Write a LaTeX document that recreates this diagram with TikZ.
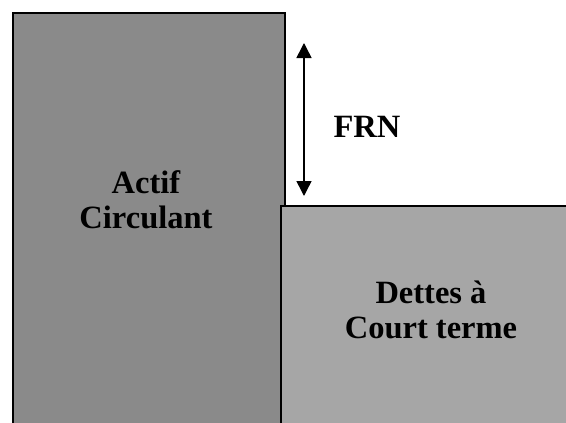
\documentclass[tikz,border=0pt]{standalone}
\usepackage{fontspec}
\setmainfont{Liberation Serif}
\usetikzlibrary{arrows.meta}
\definecolor{actifgray}{RGB}{138,138,138}
\definecolor{dettesgray}{RGB}{166,166,166}
\begin{document}
\begin{tikzpicture}[x=1pt,y=-1pt,
  block/.style={draw=black,line width=2.5pt},
  label/.style={font=\fontsize{32.5pt}{35pt}\selectfont\bfseries,align=center,text=black},
  span/.style={line width=1.5pt,{Triangle[width=15pt,length=15pt]}-{Triangle[width=15pt,length=15pt]}}]
  \useasboundingbox (0,0) rectangle (566,423);
  \clip (0,0) rectangle (566,423);
  % current assets column
  \draw[block,fill=actifgray] (13,13) rectangle (285,450);
  % short-term debt column
  \draw[block,fill=dettesgray] (281,206) rectangle (600,450);
  \node[label] (actif) at (146,200) {Actif\\Circulant};
  \node[label] (dettes) at (431,310) {Dettes à\\Court terme};
  % working capital gap
  \coordinate (top) at (304,43);
  \coordinate (bot) at (304,196);
  \draw[span] (top) -- (bot);
  \node[label] (frn) at (367,127) {FRN};
\end{tikzpicture}
\end{document}
